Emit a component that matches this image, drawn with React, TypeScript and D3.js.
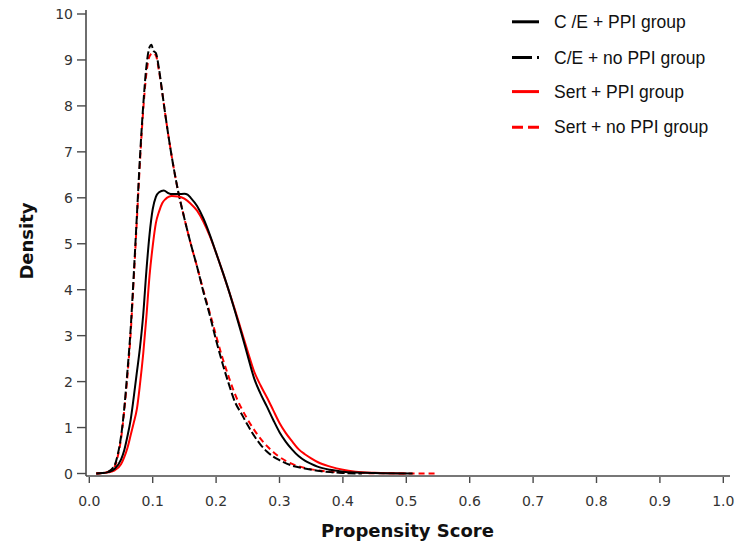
import React from "react";
import * as d3 from "d3";

const W = 738;
const H = 543;

const xTicks = [0, 0.1, 0.2, 0.3, 0.4, 0.5, 0.6, 0.7, 0.8, 0.9, 1.0];
const yTicks = [0, 1, 2, 3, 4, 5, 6, 7, 8, 9, 10];

const legendLabels = ["C /E + PPI group", "C/E + no PPI group", "Sert + PPI group", "Sert + no PPI group"];

// C/E + PPI group (black solid)
const cePpiX = [0.011, 0.02, 0.03, 0.04, 0.05, 0.055, 0.06, 0.065, 0.07, 0.075, 0.08, 0.085, 0.09, 0.095, 0.1, 0.105, 0.11, 0.1175, 0.125, 0.13, 0.14, 0.15, 0.155, 0.16, 0.17, 0.18, 0.19, 0.2, 0.21, 0.22, 0.23, 0.24, 0.25, 0.26, 0.27, 0.28, 0.29, 0.3, 0.31, 0.32, 0.33, 0.34, 0.35, 0.36, 0.38, 0.4, 0.45, 0.51];
const cePpiY = [0, 0.01, 0.03, 0.1, 0.3, 0.5, 0.8, 1.15, 1.65, 2.2, 2.75, 3.45, 4.4, 5.2, 5.75, 6.02, 6.12, 6.16, 6.1, 6.08, 6.08, 6.09, 6.07, 6.0, 5.82, 5.55, 5.2, 4.8, 4.4, 3.98, 3.52, 3.05, 2.55, 2.07, 1.74, 1.46, 1.17, 0.9, 0.69, 0.52, 0.38, 0.28, 0.21, 0.15, 0.08, 0.04, 0.01, 0];

// C/E + no PPI group (black dashed)
const ceNoX = [0.011, 0.02, 0.03, 0.04, 0.045, 0.05, 0.055, 0.06, 0.065, 0.07, 0.075, 0.08, 0.085, 0.09, 0.095, 0.098, 0.101, 0.105, 0.11, 0.115, 0.12, 0.13, 0.14, 0.15, 0.16, 0.17, 0.18, 0.19, 0.2, 0.21, 0.22, 0.23, 0.24, 0.25, 0.26, 0.27, 0.28, 0.29, 0.3, 0.32, 0.34, 0.36, 0.38, 0.4, 0.43];
const ceNoY = [0, 0.01, 0.04, 0.18, 0.42, 0.8, 1.4, 2.2, 3.1, 4.3, 5.6, 6.9, 8.0, 8.85, 9.28, 9.33, 9.2, 9.15, 8.8, 8.3, 7.8, 6.9, 6.15, 5.55, 5.0, 4.5, 3.95, 3.45, 2.9, 2.4, 1.95, 1.55, 1.3, 1.05, 0.82, 0.63, 0.48, 0.37, 0.29, 0.17, 0.11, 0.06, 0.03, 0.012, 0];

// Sert + PPI group (red solid)
const sertPpiX = [0.011, 0.02, 0.03, 0.04, 0.05, 0.055, 0.06, 0.065, 0.07, 0.075, 0.08, 0.085, 0.09, 0.095, 0.1, 0.105, 0.11, 0.115, 0.12, 0.125, 0.13, 0.14, 0.15, 0.16, 0.17, 0.18, 0.19, 0.2, 0.21, 0.22, 0.23, 0.24, 0.25, 0.26, 0.27, 0.28, 0.29, 0.3, 0.31, 0.32, 0.33, 0.34, 0.35, 0.36, 0.38, 0.4, 0.42, 0.45, 0.5];
const sertPpiY = [0, 0.01, 0.025, 0.07, 0.2, 0.35, 0.55, 0.82, 1.1, 1.4, 1.95, 2.6, 3.4, 4.3, 4.95, 5.45, 5.7, 5.88, 5.97, 6.02, 6.04, 6.03, 5.98, 5.87, 5.72, 5.48, 5.17, 4.8, 4.4, 3.98, 3.55, 3.1, 2.65, 2.22, 1.92, 1.66, 1.38, 1.1, 0.88, 0.7, 0.53, 0.42, 0.33, 0.25, 0.15, 0.08, 0.04, 0.015, 0];

// Sert + no PPI group (red dashed)
const sertNoX = [0.011, 0.02, 0.03, 0.04, 0.045, 0.05, 0.055, 0.06, 0.065, 0.07, 0.075, 0.08, 0.085, 0.09, 0.095, 0.1, 0.105, 0.11, 0.115, 0.12, 0.13, 0.14, 0.15, 0.16, 0.17, 0.18, 0.19, 0.2, 0.21, 0.22, 0.23, 0.24, 0.25, 0.26, 0.27, 0.28, 0.29, 0.3, 0.32, 0.34, 0.36, 0.38, 0.4, 0.45, 0.5, 0.55];
const sertNoY = [0, 0.01, 0.035, 0.15, 0.38, 0.75, 1.35, 2.1, 3.0, 4.2, 5.5, 6.8, 7.9, 8.7, 9.08, 9.15, 9.1, 8.75, 8.3, 7.8, 6.9, 6.15, 5.55, 5.0, 4.5, 3.98, 3.5, 3.0, 2.52, 2.1, 1.72, 1.42, 1.17, 0.95, 0.76, 0.6, 0.47, 0.36, 0.21, 0.12, 0.07, 0.04, 0.02, 0.006, 0.002, 0];

const x = d3.scaleLinear().domain([0, 1]).range([89.3, 723.3]);
const y = d3.scaleLinear().domain([0, 10]).range([473.5, 14]);

const line = d3
  .line<[number, number]>()
  .x((d) => x(d[0]))
  .y((d) => y(d[1]))
  .curve(d3.curveMonotoneX);

const zip = (xs: number[], ys: number[]) => xs.map((v, i) => [v, ys[i]] as [number, number]);

const series = [
  { name: legendLabels[3], xs: sertNoX, ys: sertNoY, color: "#ff0000", dash: "6 4", legendDash: "11 5" },
  { name: legendLabels[1], xs: ceNoX, ys: ceNoY, color: "#000000", dash: "8 3", legendDash: "20 5 2 6" },
  { name: legendLabels[2], xs: sertPpiX, ys: sertPpiY, color: "#ff0000", dash: null, legendDash: null },
  { name: legendLabels[0], xs: cePpiX, ys: cePpiY, color: "#000000", dash: null, legendDash: null },
];

const legendOrder = [3, 1, 2, 0];
const legendY = [21.8, 57.6, 91.6, 127.3];

export default function App() {
  const axisColor = "#4a4a4a";
  const labelColor = "#333";
  const tickFont = "DejaVu Sans, sans-serif";
  return (
    <svg
      width={W}
      height={H}
      viewBox={`0 0 ${W} ${H}`}
      style={{ position: "absolute", left: 0, top: 0, background: "#fff" }}
    >
      {/* Y axis */}
      <line x1={86} x2={86} y1={10} y2={476} stroke={axisColor} strokeWidth={1.6} />
      {yTicks.map((t) => (
        <g key={"y" + t}>
          <line x1={77} x2={86} y1={y(t)} y2={y(t)} stroke={axisColor} strokeWidth={1.4} />
          <text
            x={73}
            y={y(t) + 5}
            textAnchor="end"
            fontFamily={tickFont}
            fontSize={14}
            fill={labelColor}
          >
            {t}
          </text>
        </g>
      ))}
      {/* X axis */}
      <line x1={86} x2={730} y1={476} y2={476} stroke={axisColor} strokeWidth={1.6} />
      {xTicks.map((t) => (
        <g key={"x" + t}>
          <line x1={x(t)} x2={x(t)} y1={477} y2={483} stroke={axisColor} strokeWidth={1.4} />
          <text
            x={x(t)}
            y={505.5}
            textAnchor="middle"
            fontFamily={tickFont}
            fontSize={14}
            fill={labelColor}
          >
            {t.toFixed(1)}
          </text>
        </g>
      ))}
      {/* Axis titles */}
      <text
        x={407.5}
        y={537}
        textAnchor="middle"
        fontFamily={tickFont}
        fontWeight="bold"
        fontSize={18}
        fill="#111"
      >
        Propensity Score
      </text>
      <text
        transform="translate(32.5,241) rotate(-90)"
        textAnchor="middle"
        fontFamily={tickFont}
        fontWeight="bold"
        fontSize={18}
        fill="#111"
      >
        Density
      </text>
      {/* Curves */}
      {series.map((s) => (
        <path
          key={s.name}
          d={line(zip(s.xs, s.ys)) || ""}
          fill="none"
          stroke={s.color}
          strokeWidth={2}
          strokeDasharray={s.dash || undefined}
          strokeLinejoin="round"
        />
      ))}
      {/* Legend */}
      {legendOrder.map((si, i) => {
        const s = series[si];
        return (
          <g key={"lg" + i}>
            <line
              x1={512}
              x2={539}
              y1={legendY[i]}
              y2={legendY[i]}
              stroke={s.color}
              strokeWidth={3}
              strokeDasharray={s.legendDash || undefined}
            />
            <text
              x={554}
              y={legendY[i] + 6}
              fontFamily="Liberation Sans, Arial, sans-serif"
              fontSize={17.5}
              fill="#111"
            >
              {s.name}
            </text>
          </g>
        );
      })}
    </svg>
  );
}
